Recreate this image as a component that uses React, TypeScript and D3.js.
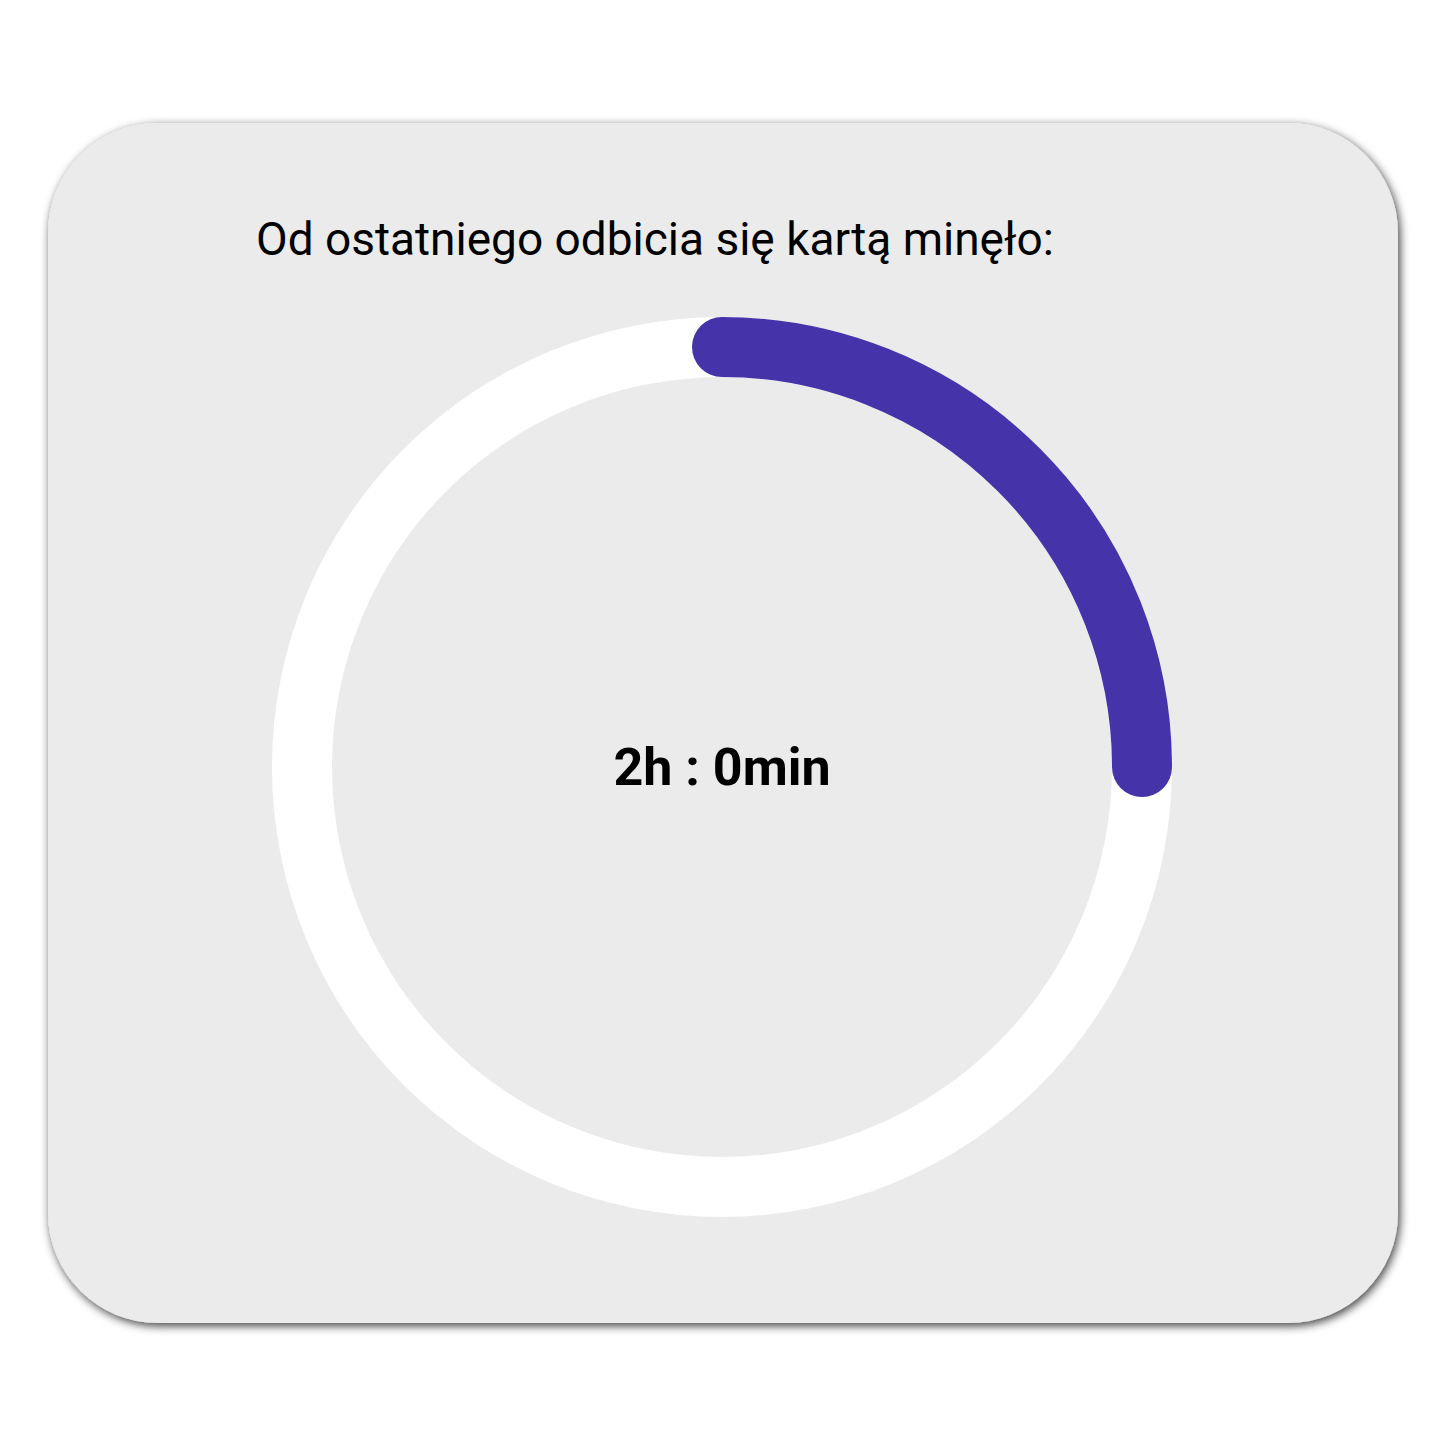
import React from "react";
import * as d3 from "d3";

const titleText = ["Od ostatniego odbicia się kartą minęło:"];
const elapsedHours = [2];
const elapsedMinutes = [0];
const maxHours = [8];

export default function App() {
  const W = 1446, H = 1446;
  const cx = 722, cy = 767;
  const rMid = 420, band = 60;
  const value = elapsedHours[0] + elapsedMinutes[0] / 60;
  const angle = d3.scaleLinear().domain([0, maxHours[0]]).range([-Math.PI / 2, 1.5 * Math.PI]);
  const bg = d3.arc()({ innerRadius: rMid - band / 2, outerRadius: rMid + band / 2, startAngle: 0, endAngle: 2 * Math.PI }) as string;
  const p = d3.path();
  p.moveTo(rMid * Math.cos(angle(0)), rMid * Math.sin(angle(0)));
  p.arc(0, 0, rMid, angle(0), angle(value));
  const fg = p.toString();
  return (
    <svg width={W} height={H} style={{ position: "absolute", left: 0, top: 0 }}>
      <defs>
        <filter id="sh" x="-10%" y="-10%" width="120%" height="120%">
          <feDropShadow dx="2" dy="3" stdDeviation="5" floodColor="#000" floodOpacity="0.75" />
        </filter>
      </defs>
      <rect x={0} y={0} width={W} height={H} fill="#fff" />
      <rect x={48} y={123} width={1350} height={1200} rx={110} ry={110} fill="#ebebeb" filter="url(#sh)" />
      <text x={256} y={255} fontFamily="Roboto, 'Noto Sans', sans-serif" fontSize={46} fill="#000">{titleText[0]}</text>
      <g transform={`translate(${cx},${cy})`}>
        <path d={bg} fill="#ffffff" />
        <path d={fg} fill="none" stroke="#4533a9" strokeWidth={band} strokeLinecap="round" />
        <text x={0} y={18} textAnchor="middle" fontFamily="Roboto, 'Noto Sans', sans-serif" fontWeight="bold" fontSize={52} fill="#000">
          {`${elapsedHours[0]}h : ${elapsedMinutes[0]}min`}
        </text>
      </g>
    </svg>
  );
}
